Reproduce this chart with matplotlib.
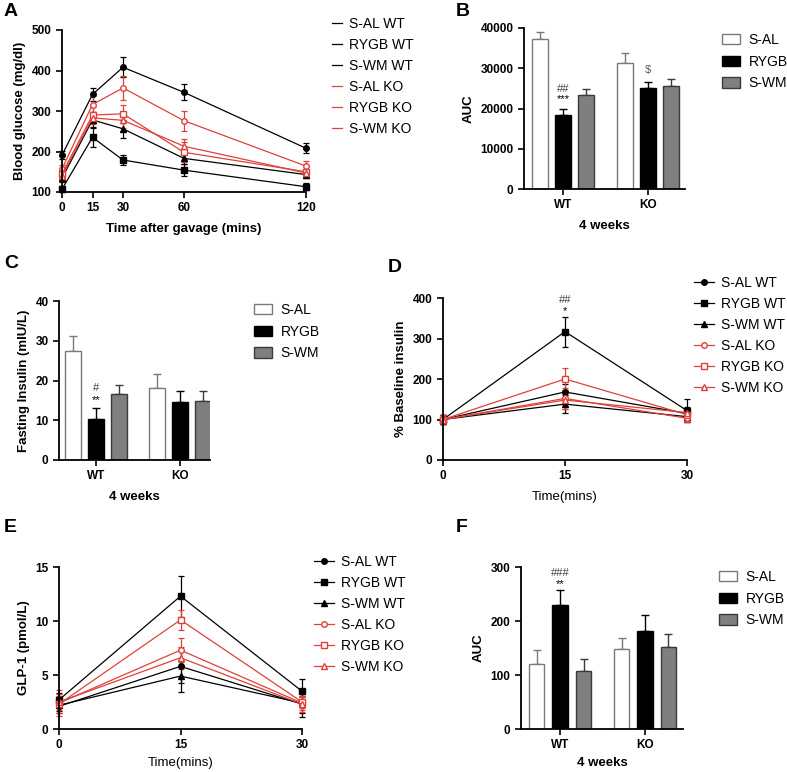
import numpy as np
import matplotlib
matplotlib.use("Agg")
import matplotlib.pyplot as plt
from matplotlib.lines import Line2D
from matplotlib.patches import Patch

plt.rcParams["font.family"] = ["Liberation Sans", "DejaVu Sans"]

RED = "#e0403a"
groups = ["S-AL WT", "RYGB WT", "S-WM WT", "S-AL KO", "RYGB KO", "S-WM KO"]
bar_groups = ["S-AL", "RYGB", "S-WM"]
genotypes = ["WT", "KO"]

# A: OGTT blood glucose (mg/dl)
ogtt_t = [0, 15, 30, 60, 120]
glucose_mean = [
    [191, 341, 408, 346, 208],
    [107, 235, 179, 154, 113],
    [134, 278, 256, 183, 143],
    [157, 316, 357, 276, 164],
    [145, 290, 293, 198, 150],
    [140, 283, 277, 213, 147],
]
glucose_sem = [
    [10, 17, 25, 20, 12],
    [8, 25, 12, 15, 8],
    [10, 20, 22, 15, 8],
    [10, 20, 30, 25, 12],
    [10, 20, 22, 25, 8],
    [8, 15, 20, 18, 8],
]

# B: glucose AUC  (rows: S-AL, RYGB, S-WM; cols: WT, KO)
auc_mean = [[37300, 31200], [18500, 25000], [23300, 25600]]
auc_sem = [[1700, 2700], [1500, 1700], [1600, 1800]]

# C: fasting insulin (mIU/L)
ins_mean = [[27.5, 18.2], [10.4, 14.5], [16.6, 14.8]]
ins_sem = [[3.8, 3.4], [2.8, 2.9], [2.2, 2.6]]

# D: % baseline insulin
time3 = [0, 15, 30]
pct_mean = [
    [100, 168, 115],
    [100, 317, 122],
    [100, 138, 107],
    [100, 152, 103],
    [100, 200, 112],
    [100, 148, 117],
]
pct_sem = [
    [12, 20, 15],
    [12, 37, 28],
    [12, 22, 12],
    [12, 25, 10],
    [12, 28, 15],
    [12, 22, 10],
]

# E: GLP-1 (pmol/L)
glp_mean = [
    [2.1, 5.8, 2.3],
    [2.7, 12.3, 3.5],
    [2.2, 4.9, 2.4],
    [2.4, 7.3, 2.4],
    [2.3, 10.1, 2.5],
    [2.5, 6.6, 2.3],
]
glp_sem = [
    [0.6, 1.5, 0.8],
    [0.6, 1.9, 1.1],
    [0.5, 1.5, 1.3],
    [1.2, 1.1, 0.6],
    [0.8, 0.9, 0.6],
    [0.7, 1.0, 0.7],
]

# F: GLP-1 AUC
glp_auc_mean = [[121, 149], [230, 182], [108, 152]]
glp_auc_sem = [[26, 20], [27, 29], [21, 24]]

line_styles = [
    dict(color="black", marker="o", mfc="black"),
    dict(color="black", marker="s", mfc="black"),
    dict(color="black", marker="^", mfc="black"),
    dict(color=RED, marker="o", mfc="white"),
    dict(color=RED, marker="s", mfc="white"),
    dict(color=RED, marker="^", mfc="white"),
]
bar_face = ["white", "black", "#7f7f7f"]
bar_edge = ["#7a7a7a", "black", "#3a3a3a"]

W, H = 787, 772
fig = plt.figure(figsize=(W / 100, H / 100), dpi=100)


def px_axes(l, r, t, b):
    return fig.add_axes([l / W, 1 - b / H, (r - l) / W, (b - t) / H])


def style(ax):
    for s in ["top", "right"]:
        ax.spines[s].set_visible(False)
    for s in ["left", "bottom"]:
        ax.spines[s].set_linewidth(1.3)
    ax.tick_params(direction="out", length=4, width=1.2, labelsize=8.5)
    for lab in ax.get_xticklabels() + ax.get_yticklabels():
        lab.set_fontweight("bold")


def line_panel(ax, x, means, sems, ms=4):
    for m, e, st in zip(means, sems, line_styles):
        ax.errorbar(x, m, yerr=e, color=st["color"], marker=st["marker"],
                    mfc=st["mfc"], mec=st["color"], ms=ms, lw=0.9,
                    elinewidth=0.9, capsize=2.5, capthick=0.9, clip_on=False)


def bar_panel(ax, means, sems, off=0.27, w=0.18, pad=6):
    xc = np.arange(len(genotypes))
    for i in range(3):
        xs = xc + (i - 1) * off
        ax.bar(xs, means[i], width=w, color=bar_face[i], edgecolor=bar_edge[i],
               linewidth=1.0, zorder=2)
        ax.errorbar(xs, means[i], yerr=[[0, 0], sems[i]], fmt="none",
                    ecolor=bar_edge[i], elinewidth=1.0, capsize=3, capthick=1.0,
                    zorder=1)
    ax.set_xticks(xc)
    ax.set_xticklabels(genotypes)
    ax.set_xlabel("4 weeks", fontsize=9.5, fontweight="bold", labelpad=pad)


def bar_legend(ax, x, y):
    hs = [Patch(facecolor=bar_face[i], edgecolor=bar_edge[i], lw=1.0) for i in range(3)]
    ax.legend(hs, bar_groups, loc="upper left", bbox_to_anchor=(x / W, 1 - y / H),
              bbox_transform=fig.transFigure, frameon=False, fontsize=10,
              handlelength=1.3, handleheight=0.75, handletextpad=0.6,
              labelspacing=0.55, borderaxespad=0, borderpad=0)


def line_legend(ax, x, y, with_markers=True):
    hs = []
    for st in line_styles:
        if with_markers:
            hs.append(Line2D([], [], color=st["color"], marker=st["marker"],
                             mfc=st["mfc"], mec=st["color"], ms=4, lw=0.9))
        else:
            hs.append(Line2D([], [], color=st["color"], lw=0.9))
    ax.legend(hs, groups, loc="upper left", bbox_to_anchor=(x / W, 1 - y / H),
              bbox_transform=fig.transFigure, frameon=False, fontsize=10,
              handlelength=1.45 if with_markers else 0.7,
              handletextpad=0.5, labelspacing=0.5, borderaxespad=0, borderpad=0)


def letter(x, y, s):
    fig.text(x / W, 1 - y / H, s, fontsize=14, fontweight="bold", va="center", ha="left")


# ---- A ----
axA = px_axes(62, 306, 30, 192)
line_panel(axA, ogtt_t, glucose_mean, glucose_sem)
axA.set_xlim(0, 120)
axA.set_ylim(100, 500)
axA.set_xticks(ogtt_t)
axA.set_yticks([100, 200, 300, 400, 500])
axA.set_xlabel("Time after gavage (mins)", fontsize=9.5, fontweight="bold", labelpad=6)
axA.set_ylabel("Blood glucose (mg/dl)", fontsize=9.5, fontweight="bold")
style(axA)
line_legend(axA, 332, 17, with_markers=False)
letter(4, 12, "A")

# ---- B ----
axB = px_axes(524, 685, 28, 189)
bar_panel(axB, auc_mean, auc_sem)
axB.set_xlim(-0.46, 1.435)
axB.set_ylim(0, 40000)
axB.set_yticks([0, 10000, 20000, 30000, 40000])
axB.set_ylabel("AUC", fontsize=9.5, fontweight="bold")
axB.text(0, auc_mean[1][0] + auc_sem[1][0] + 1000, "***", ha="center", va="bottom", fontsize=8)
axB.text(0, auc_mean[1][0] + auc_sem[1][0] + 3600, "##", ha="center", va="bottom", fontsize=8, color="#444444")
axB.text(1, auc_mean[1][1] + auc_sem[1][1] + 1500, "$", ha="center", va="bottom", fontsize=8, color="#555555")
style(axB)
bar_legend(axB, 722, 33)
letter(456, 12, "B")

# ---- C ----
axC = px_axes(59, 210, 301, 460)
bar_panel(axC, ins_mean, ins_sem, off=0.274, w=0.185)
axC.set_xlim(-0.44, 1.36)
axC.set_ylim(0, 40)
axC.set_yticks([0, 10, 20, 30, 40])
axC.set_ylabel("Fasting Insulin (mIU/L)", fontsize=9.5, fontweight="bold")
axC.text(0, ins_mean[1][0] + ins_sem[1][0] + 0.6, "**", ha="center", va="bottom", fontsize=8)
axC.text(0, ins_mean[1][0] + ins_sem[1][0] + 3.6, "#", ha="center", va="bottom", fontsize=8, color="#444444")
style(axC)
bar_legend(axC, 254, 303)
letter(4, 263, "C")

# ---- D ----
axD = px_axes(443, 687, 298, 460)
line_panel(axD, time3, pct_mean, pct_sem)
axD.set_xlim(0, 30)
axD.set_ylim(0, 400)
axD.set_xticks(time3)
axD.set_yticks([0, 100, 200, 300, 400])
axD.set_xlabel("Time(mins)", fontsize=9.5, labelpad=6)
axD.set_ylabel("% Baseline insulin", fontsize=9.5, fontweight="bold")
axD.text(15, pct_mean[1][1] + pct_sem[1][1] + 1, "*", ha="center", va="bottom", fontsize=8)
axD.text(15, pct_mean[1][1] + pct_sem[1][1] + 28, "##", ha="center", va="bottom", fontsize=8, color="#444444")
style(axD)
line_legend(axD, 694, 276)
letter(388, 267, "D")

# ---- E ----
axE = px_axes(59, 302, 567, 729)
line_panel(axE, time3, glp_mean, glp_sem)
axE.set_xlim(0, 30)
axE.set_ylim(0, 15)
axE.set_xticks(time3)
axE.set_yticks([0, 5, 10, 15])
axE.set_xlabel("Time(mins)", fontsize=9.5, labelpad=4)
axE.set_ylabel("GLP-1 (pmol/L)", fontsize=9.5, fontweight="bold")
style(axE)
line_legend(axE, 314, 555)
letter(4, 528, "E")

# ---- F ----
axF = px_axes(521, 683, 567, 729)
bar_panel(axF, glp_auc_mean, glp_auc_sem, off=0.276, w=0.185, pad=4)
axF.set_xlim(-0.46, 1.447)
axF.set_ylim(0, 300)
axF.set_yticks([0, 100, 200, 300])
axF.set_ylabel("AUC", fontsize=9.5, fontweight="bold")
axF.text(0, glp_auc_mean[1][0] + glp_auc_sem[1][0] + 3, "**", ha="center", va="bottom", fontsize=8)
axF.text(0, glp_auc_mean[1][0] + glp_auc_sem[1][0] + 23, "###", ha="center", va="bottom", fontsize=8, color="#444444")
style(axF)
bar_legend(axF, 719, 570)
letter(456, 528, "F")

fig.savefig("out.png", dpi=100)
